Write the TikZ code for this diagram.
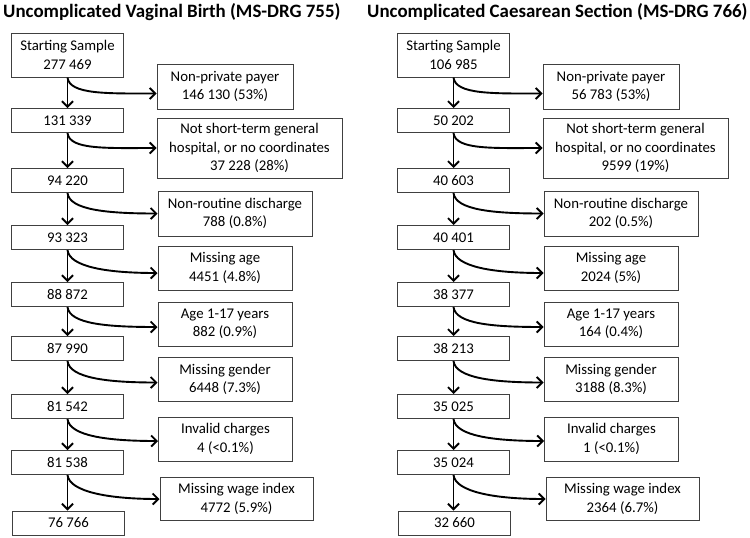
\documentclass[tikz,border=0pt]{standalone}
\usepackage{fontspec}
\setmainfont{Carlito}
\usetikzlibrary{arrows.meta}
\begin{document}
\begin{tikzpicture}[x=1pt,y=-1pt,
  box/.style={draw=black!75, line width=1pt, fill=white, align=center, inner sep=0pt, font=\fontsize{14.8}{18.5}\selectfont},
  nbox/.style={box, minimum width=112pt, minimum height=24pt},
  sbox/.style={box, minimum width=134pt, minimum height=44pt},
  flow/.style={line width=1.9pt, -{Straight Barb[length=5.5pt,width=11pt,line width=1.9pt]}},
  ttl/.style={font=\fontsize{18.9}{22}\selectfont\bfseries, anchor=base west, inner sep=0pt}]
\useasboundingbox (0,0) rectangle (750,538);
\node[ttl] (t1) at (3,17) {Uncomplicated Vaginal Birth (MS-DRG 755)};
\node[ttl] (t2) at (367,17) {Uncomplicated Caesarean Section (MS-DRG 766)};
% left column
\node[box, minimum width=112pt, minimum height=44pt] (s0) at (67.5,55) {Starting Sample\\277 469};
\node[nbox] (n1) at (67.5,120.5) {131 339};
\node[nbox] (n2) at (67.5,180.5) {94 220};
\node[nbox] (n3) at (67.5,237.5) {93 323};
\node[nbox] (n4) at (67.5,294.5) {88 872};
\node[nbox] (n5) at (67.5,348.5) {87 990};
\node[nbox] (n6) at (67.5,406.5) {81 542};
\node[nbox] (n7) at (67.5,462.5) {81 538};
\node[nbox] (n8) at (68.5,523) {76 766};
\node[box, minimum width=136pt, minimum height=45pt] (e1) at (225,86.5) {Non-private payer\\146 130 (53\%)};
\node[box, minimum width=185pt, minimum height=60pt] (e2) at (249.5,148) {Not short-term general\\hospital, or no coordinates\\37 228 (28\%)};
\node[box, minimum width=154pt, minimum height=45pt] (e3) at (235,213.5) {Non-routine discharge\\788 (0.8\%)};
\node[sbox] (e4) at (225,268) {Missing age\\4451 (4.8\%)};
\node[sbox] (e5) at (225,324) {Age 1-17 years\\882 (0.9\%)};
\node[sbox] (e6) at (225,379.5) {Missing gender\\6448 (7.3\%)};
\node[sbox] (e7) at (225.5,439) {Invalid charges\\4 (<0.1\%)};
\node[box, minimum width=153pt, minimum height=43pt] (e8) at (236.5,499) {Missing wage index\\4772 (5.9\%)};
\foreach \a/\b in {s0/n1,n1/n2,n2/n3,n3/n4,n4/n5,n5/n6,n6/n7,n7/n8}
  \draw[flow] (\a.south) -- (\a.south |- \b.north);
\foreach \a/\b/\d in {s0/e1/-7,n1/e2/0,n2/e3/0,n3/e4/-5,n4/e5/-3,n5/e6/-3,n6/e7/-2,n7/e8/0}
  \draw[flow] (\a.south) .. controls +(2,17) and +(-50,0) .. ([yshift=\d pt]\b.west);
% right column
\begin{scope}[xshift=386pt]
\node[box, minimum width=112pt, minimum height=44pt] (rs0) at (67.5,55) {Starting Sample\\106 985};
\node[nbox] (rn1) at (67.5,120.5) {50 202};
\node[nbox] (rn2) at (67.5,180.5) {40 603};
\node[nbox] (rn3) at (67.5,237.5) {40 401};
\node[nbox] (rn4) at (67.5,294.5) {38 377};
\node[nbox] (rn5) at (67.5,348.5) {38 213};
\node[nbox] (rn6) at (67.5,406.5) {35 025};
\node[nbox] (rn7) at (67.5,462.5) {35 024};
\node[nbox] (rn8) at (68.5,523) {32 660};
\node[box, minimum width=136pt, minimum height=45pt] (re1) at (225,86.5) {Non-private payer\\56 783 (53\%)};
\node[box, minimum width=185pt, minimum height=60pt] (re2) at (249.5,148) {Not short-term general\\hospital, or no coordinates\\9599 (19\%)};
\node[box, minimum width=154pt, minimum height=45pt] (re3) at (235,213.5) {Non-routine discharge\\202 (0.5\%)};
\node[sbox] (re4) at (225,268) {Missing age\\2024 (5\%)};
\node[sbox] (re5) at (225,324) {Age 1-17 years\\164 (0.4\%)};
\node[sbox] (re6) at (225,379.5) {Missing gender\\3188 (8.3\%)};
\node[sbox] (re7) at (225.5,439) {Invalid charges\\1 (<0.1\%)};
\node[box, minimum width=153pt, minimum height=43pt] (re8) at (236.5,499) {Missing wage index\\2364 (6.7\%)};
\end{scope}
\foreach \a/\b in {rs0/rn1,rn1/rn2,rn2/rn3,rn3/rn4,rn4/rn5,rn5/rn6,rn6/rn7,rn7/rn8}
  \draw[flow] (\a.south) -- (\a.south |- \b.north);
\foreach \a/\b/\d in {rs0/re1/-7,rn1/re2/0,rn2/re3/0,rn3/re4/-5,rn4/re5/-3,rn5/re6/-3,rn6/re7/-2,rn7/re8/0}
  \draw[flow] (\a.south) .. controls +(2,17) and +(-50,0) .. ([yshift=\d pt]\b.west);
\end{tikzpicture}
\end{document}
